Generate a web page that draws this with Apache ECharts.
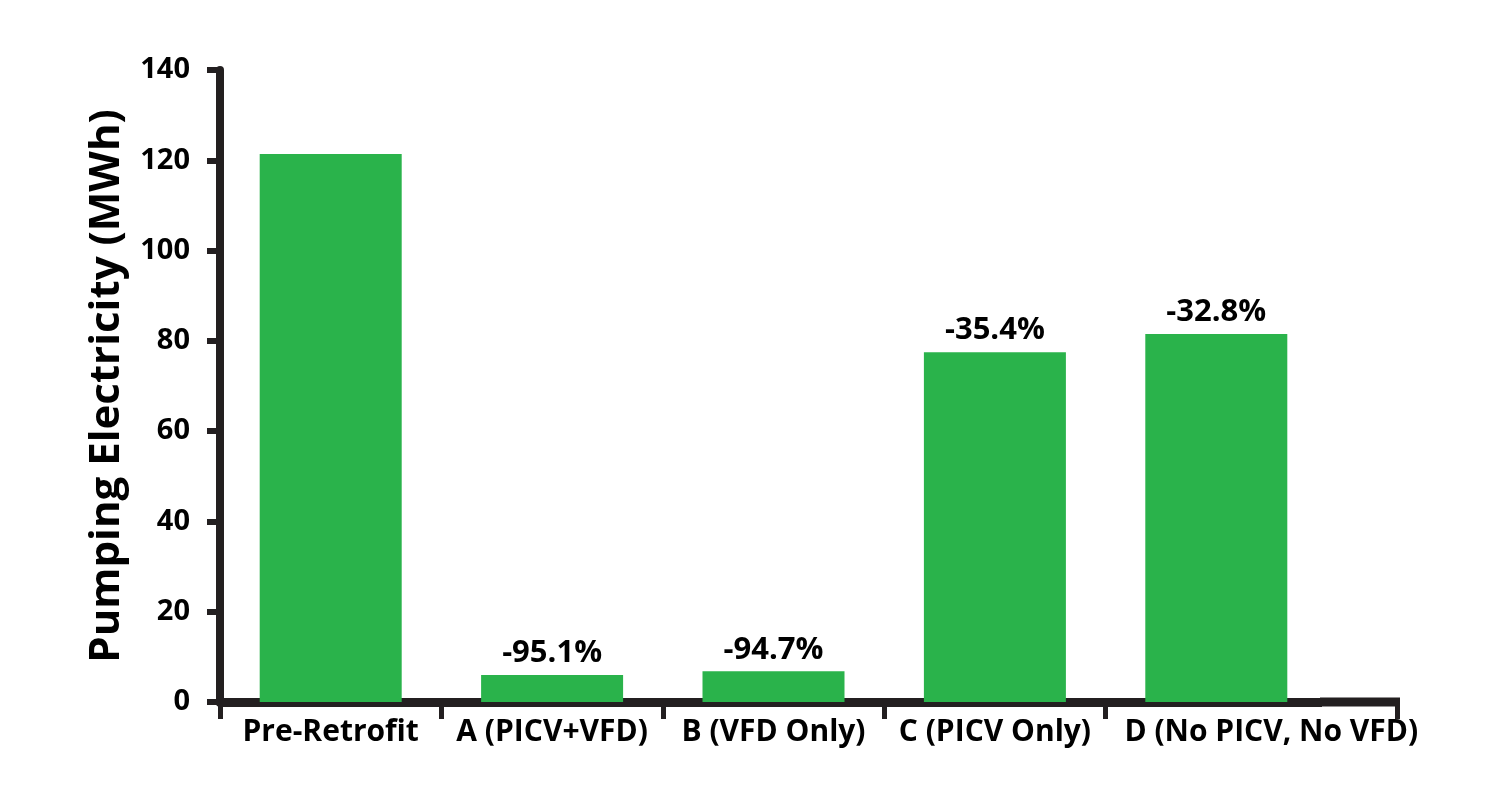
<!DOCTYPE html>
<html>
<head>
<meta charset="utf-8">
<script src="https://cdn.jsdelivr.net/npm/echarts@6/dist/echarts.min.js"></script>
<style>
html,body{margin:0;padding:0;background:#fff;}
#chart{width:1490px;height:811px;}
</style>
</head>
<body>
<div id="chart"></div>
<script>
const categories = ['Pre-Retrofit', 'A (PICV+VFD)', 'B (VFD Only)', 'C (PICV Only)', 'D (No PICV, No VFD)'];
const values = [121.4, 6.0, 6.8, 77.5, 81.5];
const barLabels = ['', '-95.1%', '-94.7%', '-35.4%', '-32.8%'];
const yTicks = { min: 0, max: 140, interval: 20 };
const yTitle = 'Pumping Electricity (MWh)';

const AX = '#231f20';
const GREEN = '#2ab34b';
const FONT = 'Open Sans';

const chart = echarts.init(document.getElementById('chart'));
chart.setOption({
  animation: false,
  backgroundColor: '#fff',
  grid: { left: 220, right: 163, top: 70, bottom: 109 },
  xAxis: {
    type: 'category',
    data: categories.map((c, i) => i === categories.length - 1
      ? { value: c, textStyle: { padding: [0, 0, 0, 110] } }
      : c),
    axisLine: { show: true, lineStyle: { color: AX, width: 9 } },
    axisTick: { show: true, inside: false, length: 17, lineStyle: { color: AX, width: 5 } },
    axisLabel: {
      interval: 0, margin: 15, color: '#000',
      fontFamily: FONT, fontWeight: 'bold', fontSize: 30
    }
  },
  yAxis: {
    type: 'value',
    min: yTicks.min, max: yTicks.max, interval: yTicks.interval,
    name: yTitle,
    nameLocation: 'middle',
    nameGap: 92,
    nameTextStyle: { color: '#000', fontFamily: FONT, fontWeight: 'bold', fontSize: 42 },
    splitLine: { show: false },
    axisLine: { show: true, lineStyle: { color: AX, width: 8 } },
    axisTick: { show: true, inside: false, length: 13, lineStyle: { color: AX, width: 6 } },
    axisLabel: { margin: 30, color: '#000', fontFamily: FONT, fontWeight: 'bold', fontSize: 29 }
  },
  series: [{
    type: 'bar',
    data: values,
    barWidth: 142,
    itemStyle: { color: GREEN },
    label: {
      show: true, position: 'top', distance: 6,
      formatter: p => barLabels[p.dataIndex],
      color: '#000', fontFamily: FONT, fontWeight: 'bold', fontSize: 31
    }
  }],
  graphic: [
    { type: 'rect', shape: { x: 1322, y: 706, width: 10, height: 16 }, style: { fill: '#fff' }, z: 100 },
    { type: 'line', shape: { x1: 1320, y1: 702, x2: 1400, y2: 702 }, style: { stroke: AX, lineWidth: 9 }, z: 100 },
    { type: 'line', shape: { x1: 1397.5, y1: 702, x2: 1397.5, y2: 719 }, style: { stroke: AX, lineWidth: 5 }, z: 100 }
  ]
});
</script>
</body>
</html>
